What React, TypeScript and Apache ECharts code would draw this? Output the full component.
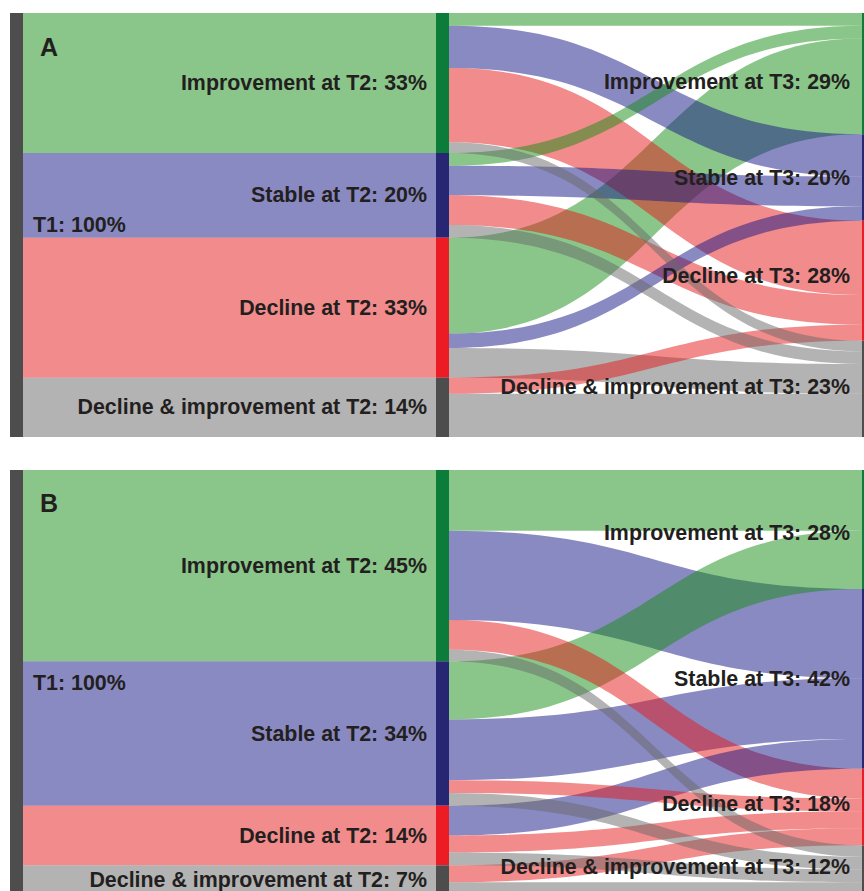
import React, { useEffect, useRef } from "react";
import * as echarts from "echarts";

// ---------- data ----------
const STAGES = ["Improvement", "Stable", "Decline", "Decline & improvement"];
const T1_PCT = 100;

// Panel A
const T2_PCT_A = [33, 20, 33, 14];
const T3_PCT_A = [29, 20, 28, 23];
// rows: category at T2, columns: category at T3 (percent of cohort)
const FLOWS_A = [
  [3.0, 10.0, 17.5, 2.5],
  [3.0, 7.0, 7.0, 3.0],
  [22.6, 3.4, 0, 7.0],
  [0, 0, 3.8, 10.2],
];

// Panel B
const T2_PCT_B = [45, 34, 14, 7];
const T3_PCT_B = [28, 42, 18, 12];
const FLOWS_B = [
  [14.3, 21.0, 7.0, 2.7],
  [13.7, 14.3, 3.0, 3.0],
  [0, 7.0, 4.0, 3.0],
  [0, 0, 4.0, 3.0],
];

// ---------- styles ----------
const LINK_COLORS = ["#158d15", "#151585", "#e51717", "#676767"];
const NODE_COLORS = ["#0b7c3a", "#262673", "#ed1c24", "#4d4d4d"];
const T1_COLOR = "#4d4d4d";
const TEXT_COLOR = "#231f20";
const FONT = "Liberation Sans";

function buildSeries(
  t2: number[],
  t3: number[],
  flows: number[][],
  top: number,
  height: number,
  t3LabelDy: number[]
) {
  const t1Name = `T1: ${T1_PCT}%`;
  const t2Names = STAGES.map((s, i) => `${s} at T2: ${t2[i]}%`);
  const t3Names = STAGES.map((s, i) => `${s} at T3: ${t3[i]}%`);

  const nodes: any[] = [
    {
      name: t1Name,
      itemStyle: { color: T1_COLOR },
      label: { position: "right", distance: 10 },
    },
    ...t2Names.map((n, i) => ({
      name: n,
      itemStyle: { color: NODE_COLORS[i] },
      label: { position: "left", distance: 9 },
    })),
    ...t3Names.map((n, i) => ({
      name: n,
      itemStyle: { color: NODE_COLORS[i] },
      label: { position: "left", distance: 12, offset: [0, t3LabelDy[i]] },
    })),
  ];

  const links: any[] = t2Names.map((n, i) => ({
    source: t1Name,
    target: n,
    value: t2[i],
    lineStyle: { color: LINK_COLORS[i], opacity: 0.5 },
  }));

  const flowLinks: any[] = [];
  flows.forEach((row, i) =>
    row.forEach((v, j) => {
      if (v > 0) {
        flowLinks.push({
          source: t2Names[i],
          target: t3Names[j],
          value: v,
          lineStyle: { color: LINK_COLORS[j], opacity: 0.5 },
        });
      }
    })
  );
  // larger flows are drawn first (underneath)
  flowLinks.sort((a, b) => b.value - a.value);

  return {
    type: "sankey",
    left: 10,
    top,
    width: 865,
    height,
    nodeWidth: 13,
    nodeGap: 0,
    layoutIterations: 0,
    draggable: false,
    silent: true,
    emphasis: { disabled: true },
    itemStyle: { borderWidth: 0 },
    lineStyle: { curveness: 0.5 },
    label: {
      color: TEXT_COLOR,
      fontFamily: FONT,
      fontSize: 21.4,
      fontWeight: "bold",
    },
    data: nodes,
    links: [...links, ...flowLinks],
  };
}

export default function App() {
  const ref = useRef<HTMLDivElement>(null);

  useEffect(() => {
    if (!ref.current) return;
    const chart = echarts.init(ref.current, undefined, { renderer: "svg" });
    chart.setOption({
      animation: false,
      series: [
        buildSeries(T2_PCT_A, T3_PCT_A, FLOWS_A, 13, 424, [8, 0, -5, -2]),
        buildSeries(T2_PCT_B, T3_PCT_B, FLOWS_B, 470, 425, [3, 0, -3, -3]),
      ],
      graphic: [
        {
          type: "text",
          left: 40,
          top: 34,
          z: 100,
          style: {
            text: "A",
            font: `bold 25px "${FONT}"`,
            fill: TEXT_COLOR,
          },
        },
        {
          type: "text",
          left: 40,
          top: 490,
          z: 100,
          style: {
            text: "B",
            font: `bold 25px "${FONT}"`,
            fill: TEXT_COLOR,
          },
        },
      ],
    });
    return () => chart.dispose();
  }, []);

  return (
    <div
      style={{
        position: "fixed",
        left: 0,
        top: 0,
        width: 864,
        height: 891,
        overflow: "hidden",
        background: "#fff",
      }}
    >
      <div ref={ref} style={{ width: 880, height: 891 }} />
    </div>
  );
}
